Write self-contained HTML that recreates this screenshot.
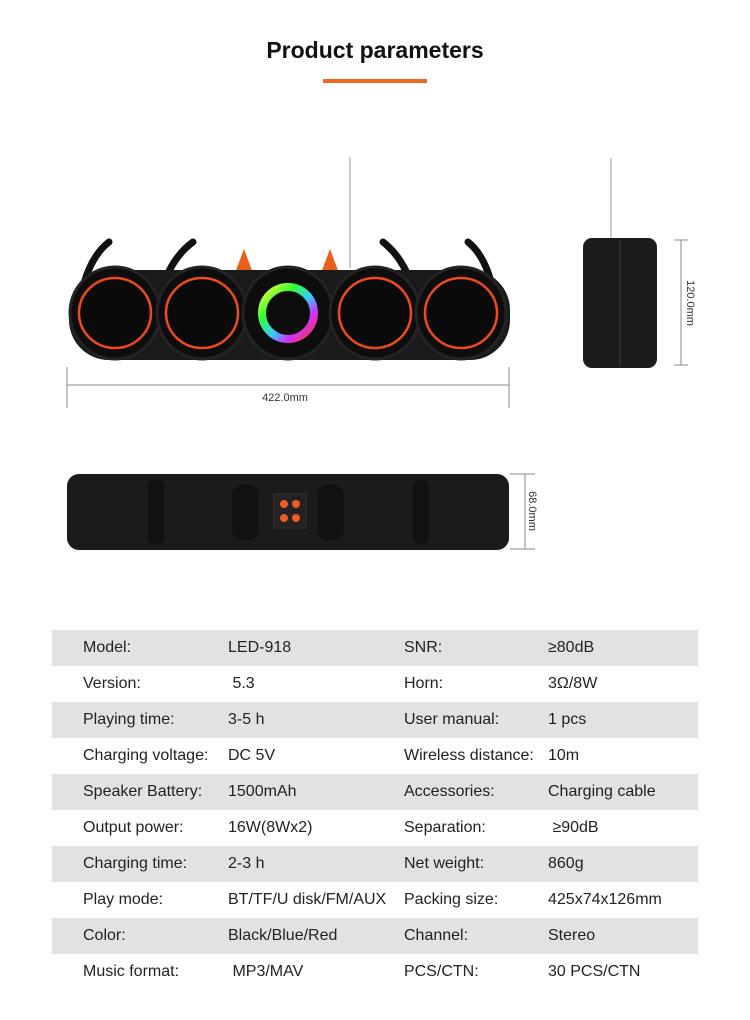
<!DOCTYPE html>
<html><head><meta charset="utf-8"><style>
body{margin:0;width:750px;height:1020px;background:#fff;font-family:"Liberation Sans",sans-serif;position:relative;overflow:hidden}
h1{position:absolute;top:37px;left:0;width:750px;margin:0;text-align:center;font-size:23px;font-weight:bold;color:#111}
.bar{position:absolute;left:323px;top:79px;width:104px;height:4px;background:#ec6a1f}
table{position:absolute;left:52px;top:630px;width:646px;border-collapse:collapse;font-size:16px;color:#222}
td{height:36px;padding:0;vertical-align:middle}
tr:nth-child(odd){background:#e2e2e2}
td.a{padding-left:31px;width:145px}td.b{width:176px}td.c{width:144px}
</style></head><body>
<h1>Product parameters</h1><div class="bar"></div>
<svg width="750" height="600" style="position:absolute;left:0;top:0">
<defs><linearGradient id="rb" x1="0" y1="0" x2="1" y2="1"><stop offset="0" stop-color="#ff3"/><stop offset=".3" stop-color="#3f3"/><stop offset=".55" stop-color="#3cf"/><stop offset=".75" stop-color="#c3f"/><stop offset="1" stop-color="#f33"/></linearGradient></defs>
<g stroke="#999" stroke-width="1">
<line x1="611" y1="158" x2="611" y2="240"/><line x1="350" y1="157" x2="350" y2="268"/>
</g>
<g fill="none" stroke="#111" stroke-width="7" stroke-linecap="round">
<path d="M80 300 Q88 258 109 242"/><path d="M165 280 Q175 255 193 242"/>
<path d="M495 300 Q488 258 468 242"/><path d="M410 280 Q400 255 383 242"/>
</g>
<polygon points="235,273 244,249 253,273" fill="#e8601c"/><polygon points="321,273 330,249 339,273" fill="#e8601c"/>
<rect x="69" y="270" width="441" height="90" rx="40" fill="#1a1a1a"/>
<g fill="#0d0d0d" stroke="#232323" stroke-width="3">
<ellipse cx="115" cy="313" rx="45" ry="46"/><ellipse cx="202" cy="313" rx="45" ry="46"/><ellipse cx="288" cy="313" rx="45" ry="46"/><ellipse cx="375" cy="313" rx="45" ry="46"/><ellipse cx="461" cy="313" rx="45" ry="46"/>
</g>
<g fill="#0a0a0a" stroke="#ee4a1c" stroke-width="2.5">
<ellipse cx="115" cy="313" rx="36" ry="35"/><ellipse cx="202" cy="313" rx="36" ry="35"/><ellipse cx="375" cy="313" rx="36" ry="35"/><ellipse cx="461" cy="313" rx="36" ry="35"/>
</g>
<circle cx="288" cy="313" r="26" fill="none" stroke="url(#rb)" stroke-width="8"/>
<g stroke="#888" stroke-width="1">
<line x1="67" y1="367" x2="67" y2="408"/><line x1="509" y1="367" x2="509" y2="408"/><line x1="67" y1="385" x2="509" y2="385"/>
<line x1="681" y1="240" x2="681" y2="365"/><line x1="674" y1="240" x2="688" y2="240"/><line x1="674" y1="365" x2="688" y2="365"/>
<line x1="525" y1="474" x2="525" y2="549"/><line x1="510" y1="474" x2="535" y2="474"/><line x1="510" y1="549" x2="535" y2="549"/>
</g>
<text x="285" y="401" font-size="11" text-anchor="middle" fill="#333" font-family="Liberation Sans">422.0mm</text>
<text transform="translate(687,303) rotate(90)" font-size="11" text-anchor="middle" fill="#333" font-family="Liberation Sans">120.0mm</text>
<text transform="translate(529,511) rotate(90)" font-size="11" text-anchor="middle" fill="#333" font-family="Liberation Sans">68.0mm</text>
<rect x="583" y="238" width="74" height="130" rx="9" fill="#1c1c1c"/><line x1="620" y1="240" x2="620" y2="366" stroke="#2e2e2e" stroke-width="2"/>
<rect x="67" y="474" width="442" height="76" rx="12" fill="#1b1b1b"/>
<g fill="#111"><rect x="148" y="480" width="16" height="64" rx="6"/><rect x="413" y="480" width="16" height="64" rx="6"/><rect x="232" y="485" width="26" height="55" rx="10"/><rect x="318" y="485" width="26" height="55" rx="10"/></g>
<rect x="274" y="494" width="32" height="34" fill="#222" stroke="#333"/>
<g fill="#ee5a28"><circle cx="284" cy="504" r="4"/><circle cx="296" cy="504" r="4"/><circle cx="284" cy="518" r="4"/><circle cx="296" cy="518" r="4"/></g>
</svg>
<table>
<tr><td class="a">Model:</td><td class="b">LED-918</td><td class="c">SNR:</td><td>≥80dB</td></tr>
<tr><td class="a">Version:</td><td class="b">&nbsp;5.3</td><td class="c">Horn:</td><td>3Ω/8W</td></tr>
<tr><td class="a">Playing time:</td><td class="b">3-5 h</td><td class="c">User manual:</td><td>1 pcs</td></tr>
<tr><td class="a">Charging voltage:</td><td class="b">DC 5V</td><td class="c">Wireless distance:</td><td>10m</td></tr>
<tr><td class="a">Speaker Battery:</td><td class="b">1500mAh</td><td class="c">Accessories:</td><td>Charging cable</td></tr>
<tr><td class="a">Output power:</td><td class="b">16W(8Wx2)</td><td class="c">Separation:</td><td>&nbsp;≥90dB</td></tr>
<tr><td class="a">Charging time:</td><td class="b">2-3 h</td><td class="c">Net weight:</td><td>860g</td></tr>
<tr><td class="a">Play mode:</td><td class="b">BT/TF/U disk/FM/AUX</td><td class="c">Packing size:</td><td>425x74x126mm</td></tr>
<tr><td class="a">Color:</td><td class="b">Black/Blue/Red</td><td class="c">Channel:</td><td>Stereo</td></tr>
<tr><td class="a">Music format:</td><td class="b">&nbsp;MP3/MAV</td><td class="c">PCS/CTN:</td><td>30 PCS/CTN</td></tr>
</table>
</body></html>
